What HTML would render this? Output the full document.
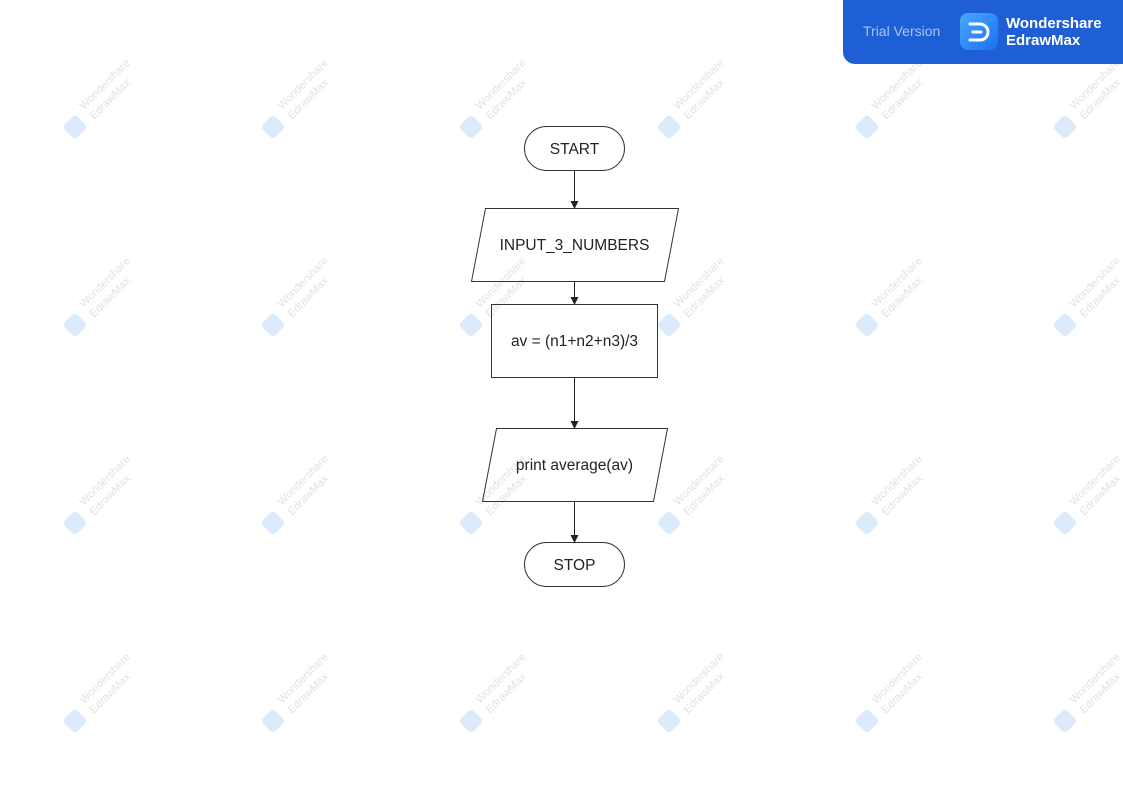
<!DOCTYPE html>
<html><head><meta charset="utf-8"><style>
html,body{margin:0;padding:0;background:#fff;}
body{width:1123px;height:794px;position:relative;overflow:hidden;font-family:"Liberation Sans",Arial,sans-serif;}
svg{position:absolute;left:0;top:0;}
.badge{position:absolute;left:843px;top:0;width:280px;height:64px;background:#1f5fd6;border-bottom-left-radius:12px;}
</style></head><body>
<svg width="1123" height="794" xmlns="http://www.w3.org/2000/svg">
<defs>
<g id="wm">
  <rect x="-9" y="-9" width="18" height="18" rx="4" transform="rotate(45)" fill="#dcebfb"/>
  <text x="0" y="0" transform="translate(9,-17) rotate(-45)" font-size="11" fill="#e2e2e2" font-family="Liberation Sans, sans-serif">Wondershare</text>
  <text x="0" y="0" transform="translate(19,-7) rotate(-45)" font-size="11" fill="#e2e2e2" font-family="Liberation Sans, sans-serif">EdrawMax</text>
</g>
<marker id="ar" markerWidth="8" markerHeight="8" refX="7" refY="4" orient="auto" markerUnits="userSpaceOnUse">
  <path d="M0,0 L8,4 L0,8 Z" fill="#222"/>
</marker>
</defs>
<g>
<use href="#wm" x="75" y="127"/><use href="#wm" x="273" y="127"/><use href="#wm" x="471" y="127"/><use href="#wm" x="669" y="127"/><use href="#wm" x="867" y="127"/><use href="#wm" x="1065" y="127"/>
<use href="#wm" x="75" y="325"/><use href="#wm" x="273" y="325"/><use href="#wm" x="471" y="325"/><use href="#wm" x="669" y="325"/><use href="#wm" x="867" y="325"/><use href="#wm" x="1065" y="325"/>
<use href="#wm" x="75" y="523"/><use href="#wm" x="273" y="523"/><use href="#wm" x="471" y="523"/><use href="#wm" x="669" y="523"/><use href="#wm" x="867" y="523"/><use href="#wm" x="1065" y="523"/>
<use href="#wm" x="75" y="721"/><use href="#wm" x="273" y="721"/><use href="#wm" x="471" y="721"/><use href="#wm" x="669" y="721"/><use href="#wm" x="867" y="721"/><use href="#wm" x="1065" y="721"/>
</g>
<g fill="none" stroke="#333" stroke-width="1">
  <rect x="524.5" y="126.5" width="100" height="44" rx="22"/>
  <polygon points="485.5,208.5 678.5,208.5 664.5,281.5 471.5,281.5"/>
  <rect x="491.5" y="304.5" width="166" height="73"/>
  <polygon points="496.5,428.5 667.5,428.5 653.5,501.5 482.5,501.5"/>
  <rect x="524.5" y="542.5" width="100" height="44" rx="22"/>
</g>
<g stroke="#222" stroke-width="1" marker-end="url(#ar)">
  <line x1="574.5" y1="171" x2="574.5" y2="208"/>
  <line x1="574.5" y1="282" x2="574.5" y2="304"/>
  <line x1="574.5" y1="378" x2="574.5" y2="428"/>
  <line x1="574.5" y1="502" x2="574.5" y2="542"/>
</g>
<g font-family="Liberation Sans, sans-serif" font-size="15.5" fill="#222" text-anchor="middle">
  <text x="574.5" y="154">START</text>
  <text x="574.5" y="250">INPUT_3_NUMBERS</text>
  <text x="574.5" y="346">av = (n1+n2+n3)/3</text>
  <text x="574.5" y="470">print average(av)</text>
  <text x="574.5" y="570">STOP</text>
</g>
</svg>
<div class="badge">
  <div style="position:absolute;left:20px;top:23px;font-size:14px;color:#a9c3f2;">Trial Version</div>
  <div style="position:absolute;left:117px;top:13px;width:38px;height:37px;border-radius:8px;background:linear-gradient(135deg,#4aa8ff,#1a6ff5);">
    <svg width="38" height="37" style="position:absolute;left:0;top:0">
      <path d="M10,11 H20 A8,8 0 0 1 20,27 H10" fill="none" stroke="#fff" stroke-width="3" stroke-linecap="round"/>
      <line x1="13" y1="19" x2="21" y2="19" stroke="#fff" stroke-width="3" stroke-linecap="round"/>
    </svg>
  </div>
  <div style="position:absolute;left:163px;top:15px;font-size:15px;font-weight:bold;color:#fff;line-height:17px;">Wondershare<br>EdrawMax</div>
</div>
</body></html>
